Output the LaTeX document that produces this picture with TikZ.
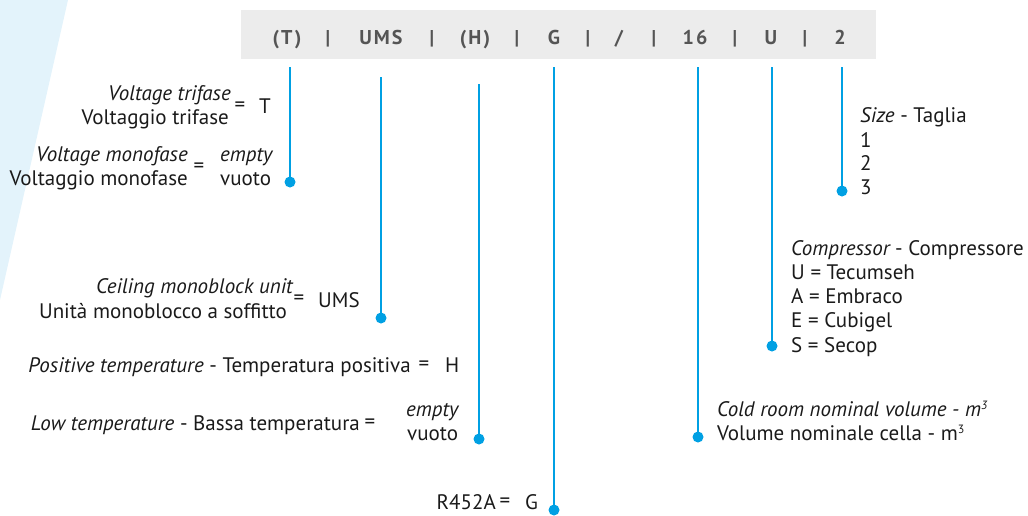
\documentclass[tikz,border=0pt]{standalone}
\usepackage{fontspec}
\setmainfont{PT Sans}
\definecolor{lineblue}{RGB}{0,160,227}
\definecolor{bgblue}{RGB}{227,243,251}
\definecolor{bargray}{RGB}{236,236,236}
\definecolor{bartext}{RGB}{85,85,85}
\definecolor{txt}{RGB}{26,26,26}
\newcommand{\cubesup}{\raisebox{6.5pt}{\fontsize{12}{12}\selectfont 3}}
\begin{document}
\begin{tikzpicture}[x=1pt,y=-1pt,
  lbl/.style={inner sep=0pt,text=txt,font=\fontsize{21}{24}\selectfont},
  lblR/.style={lbl,anchor=base east},
  lblL/.style={lbl,anchor=base west},
  eq/.style={lbl,anchor=center},
  code/.style={inner sep=0pt,anchor=base,text=bartext,font=\fontsize{20}{22}\selectfont\bfseries\addfontfeatures{LetterSpace=10}},
  lead/.style={draw=lineblue,line width=2.8pt},
  dot/.style={circle,fill=lineblue,inner sep=0pt,minimum size=11pt}]
\useasboundingbox (0,0) rectangle (1028,515);
% background
\fill[bgblue] (0,0) -- (68,0) -- (0,300) -- cycle;
\fill[bargray] (241,10) rectangle (876,59);
% code bar
\node[code] (cT) at (287,44) {(T)};
\node[code] (s1) at (328,44) {|};
\node[code] (cUMS) at (381,44) {UMS};
\node[code] (s2) at (432,44) {|};
\node[code] (cH) at (475,44) {(H)};
\node[code] (s3) at (517,44) {|};
\node[code] (cG) at (554,44) {G};
\node[code] (s4) at (588,44) {|};
\node[code] (cSl) at (619,44) {/};
\node[code] (s5) at (654,44) {|};
\node[code] (c16) at (695,44) {16};
\node[code] (s6) at (735,44) {|};
\node[code] (cU) at (771,44) {U};
\node[code] (s7) at (805,44) {|};
\node[code] (c2) at (840,44) {2};
% leader tops and dots
\coordinate (tT) at (290,67);
\coordinate (tUMS) at (381,77);
\coordinate (tH) at (479,84);
\coordinate (tG) at (554,67);
\coordinate (t16) at (698,67);
\coordinate (tU) at (772,67);
\coordinate (t2) at (842,67);
\node[dot] (dT) at (290,182) {};
\node[dot] (dUMS) at (381,318) {};
\node[dot] (dH) at (479,439) {};
\node[dot] (dG) at (554,510) {};
\node[dot] (d16) at (698,437) {};
\node[dot] (dU) at (772,346) {};
\node[dot] (d2) at (842,191) {};
\draw[lead] (tT) -- (dT.center);
\draw[lead] (tUMS) -- (dUMS.center);
\draw[lead] (tH) -- (dH.center);
\draw[lead] (tG) -- (dG.center);
\draw[lead] (t16) -- (d16.center);
\draw[lead] (tU) -- (dU.center);
\draw[lead] (t2) -- (d2.center);
% T
\node[lblR] (vt1) at (231,100) {\itshape Voltage trifase};
\node[lblR] (vt2) at (229,124) {Voltaggio trifase};
\node[eq] (vte) at (240,107) {=};
\node[lblL] (vtv) at (259,113) {T};
\node[lblR] (vm1) at (188,161) {\itshape Voltage monofase};
\node[lblR] (vm2) at (188,185) {Voltaggio monofase};
\node[eq] (vme) at (199,168) {=};
\node[lblL] (vmv1) at (220,161) {\itshape empty};
\node[lblL] (vmv2) at (220,185) {vuoto};
% UMS
\node[lblR] (u1) at (293,293) {\itshape Ceiling monoblock unit};
\node[lblR] (u2) at (287,318) {Unità monoblocco a soffitto};
\node[eq] (ue) at (299,300) {=};
\node[lblL] (uv) at (318,307) {UMS};
% H
\node[lblR] (p1) at (411,372) {\itshape Positive temperature\upshape\ - Temperatura positiva};
\node[eq] (pe) at (424,366) {=};
\node[lblL] (pv) at (445,372) {H};
\node[lblR] (l1) at (360,430) {\itshape Low temperature\upshape\ - Bassa temperatura};
\node[eq] (le) at (370,424) {=};
\node[lblL] (lv1) at (406,416) {\itshape empty};
\node[lblL] (lv2) at (407,440) {vuoto};
% G
\node[lblR] (g1) at (496,509) {R452A};
\node[eq] (ge) at (505,503) {=};
\node[lblL] (gv) at (525,509) {G};
% 16
\node[lblL] (v1) at (717,416) {\itshape Cold room nominal volume - m\cubesup};
\node[lblL] (v2) at (717,440) {Volume nominale cella - m\cubesup};
% U
\node[lblL] (k0) at (791,255) {\itshape Compressor\upshape\ - Compressore};
\node[lblL] (k1) at (791,279) {U = Tecumseh};
\node[lblL] (k2) at (791,303) {A = Embraco};
\node[lblL] (k3) at (791,327) {E = Cubigel};
\node[lblL] (k4) at (791,352) {S = Secop};
% 2
\node[lblL] (z0) at (860,122) {\itshape Size\upshape\ - Taglia};
\node[lblL] (z1) at (860,147) {1};
\node[lblL] (z2) at (860,170) {2};
\node[lblL] (z3) at (860,194) {3};
\end{tikzpicture}
\end{document}
